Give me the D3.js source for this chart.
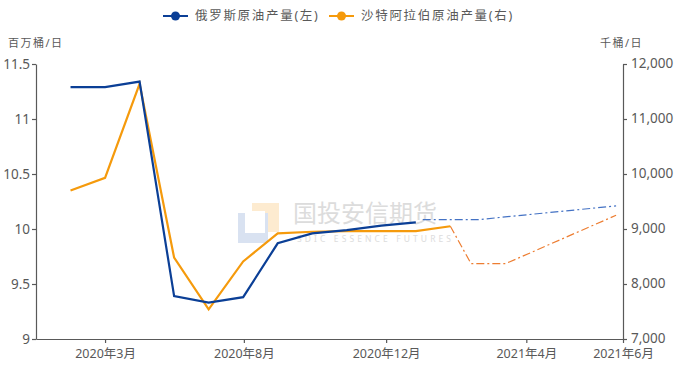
<!DOCTYPE html>
<html>
<head>
<meta charset="utf-8">
<script src="https://cdn.jsdelivr.net/npm/d3@7"></script>
<style>
  body { margin: 0; background: #fff; }
  svg text { font-family: "Noto Sans", "Noto Sans CJK SC", sans-serif; }
</style>
</head>
<body>
<div id="chart"></div>
<script>
// months indexed from 2020-02 (0) to 2021-06 (16)
var russiaMonths = [0, 1, 2, 3, 4, 5, 6, 7, 8, 9, 10];
var russiaValues = [11.29, 11.29, 11.34, 9.39, 9.33, 9.38, 9.87, 9.96, 9.99, 10.03, 10.06];
var russiaForecastMonths = [10.2, 11.8, 15.8];
var russiaForecastValues = [10.085, 10.085, 10.21];

var saudiMonths = [0, 1, 2, 3, 4, 5, 6, 7, 8, 9, 10, 11];
var saudiValues = [9700, 9930, 11640, 8480, 7540, 8410, 8920, 8950, 8960, 8960, 8960, 9050];
var saudiForecastMonths = [11, 11.6, 12.6, 15.8];
var saudiForecastValues = [9050, 8370, 8370, 9250];

var tickMonths = [1, 5.02, 9.14, 13.2, 16];
var tickLabels = ["2020年3月", "2020年8月", "2020年12月", "2021年4月", "2021年6月"];

var leftTicks = [9, 9.5, 10, 10.5, 11, 11.5];
var rightTicks = [7000, 8000, 9000, 10000, 11000, 12000];

var svgWidth = 680, svgHeight = 370;
var margin = {top: 64, right: 57, bottom: 31, left: 36};
var width = svgWidth - margin.left - margin.right;
var height = svgHeight - margin.top - margin.bottom;

var blue = "#0b3f96", orange = "#f59a0c";
var blueDash = "#4472c4", orangeDash = "#ed7d31";
var axisColor = "#595959", textColor = "#595959";

var svg = d3.select("#chart").append("svg")
    .attr("width", svgWidth)
    .attr("height", svgHeight);

var g = svg.append("g").attr("transform", "translate(" + margin.left + "," + margin.top + ")");

var x = d3.scaleLinear().domain([-1, 16]).range([0, width]);
var yL = d3.scaleLinear().domain([9, 11.5]).range([height, 0]);
var yR = d3.scaleLinear().domain([7000, 12000]).range([height, 0]);

// watermark
var wm = g.append("g").attr("opacity", 0.9);
wm.append("rect").attr("x", 216).attr("y", 139).attr("width", 27).attr("height", 29).attr("fill", "#fde9cc");
wm.append("rect").attr("x", 202).attr("y", 149).attr("width", 30).attr("height", 30).attr("fill", "#d5dff0");
wm.append("rect").attr("x", 209).attr("y", 147).attr("width", 20).attr("height", 22).attr("fill", "#fff");
wm.append("text").attr("x", 257).attr("y", 158).attr("font-size", 24)
    .attr("font-family", "'Noto Sans CJK SC', sans-serif")
    .attr("fill", "#d9d9d9").text("国投安信期货");
wm.append("text").attr("x", 261).attr("y", 178).attr("font-size", 8.5)
    .attr("letter-spacing", 3.1).attr("fill", "#d9d9d9").text("SDIC ESSENCE FUTURES");

// axes
var xAxis = d3.axisBottom(x).tickValues(tickMonths)
    .tickFormat(function(d, i) { return tickLabels[i]; })
    .tickSize(4).tickSizeOuter(0);
var gx = g.append("g").attr("transform", "translate(0," + height + ")").call(xAxis);

var leftAxis = d3.axisLeft(yL).tickValues(leftTicks).tickFormat(d3.format("")).tickSize(4).tickSizeOuter(0);
var gl = g.append("g").call(leftAxis);

var rightAxis = d3.axisRight(yR).tickValues(rightTicks).tickFormat(d3.format(",")).tickSize(4).tickSizeOuter(0);
var gr = g.append("g").attr("transform", "translate(" + width + ",0)").call(rightAxis);

[gx, gl, gr].forEach(function(a) {
  a.selectAll("path, line").attr("stroke", axisColor).attr("stroke-width", 1.2);
  a.selectAll("text").attr("fill", textColor).attr("font-size", 13.5)
      .attr("font-family", "'Noto Sans', 'Noto Sans CJK SC', sans-serif");
});
gx.selectAll("text").attr("y", 7).attr("dy", "0.95em").attr("font-size", 12.5);
gl.selectAll("text").attr("x", -6);
gr.selectAll("text").attr("x", 8).attr("dy", "0.25em");

// unit labels
svg.append("text").attr("x", 8).attr("y", 47).attr("font-size", 11)
    .attr("font-family", "'Noto Sans CJK SC', sans-serif").attr("letter-spacing", 1.5)
    .attr("fill", textColor).text("百万桶/日");
svg.append("text").attr("x", 600).attr("y", 47).attr("font-size", 11)
    .attr("font-family", "'Noto Sans CJK SC', sans-serif").attr("letter-spacing", 1.5)
    .attr("fill", textColor).text("千桶/日");

// lines
var lineL = d3.line().x(function(d) { return x(d[0]); }).y(function(d) { return yL(d[1]); });
var lineR = d3.line().x(function(d) { return x(d[0]); }).y(function(d) { return yR(d[1]); });

g.append("path").datum(d3.zip(russiaForecastMonths, russiaForecastValues))
    .attr("d", lineL).attr("fill", "none").attr("stroke", blueDash)
    .attr("stroke-width", 1.2).attr("stroke-dasharray", "8,3,2,3");
g.append("path").datum(d3.zip(saudiForecastMonths, saudiForecastValues))
    .attr("d", lineR).attr("fill", "none").attr("stroke", orangeDash)
    .attr("stroke-width", 1.2).attr("stroke-dasharray", "8,3,2,3");

g.append("path").datum(d3.zip(saudiMonths, saudiValues))
    .attr("d", lineR).attr("fill", "none").attr("stroke", orange)
    .attr("stroke-width", 2.2).attr("stroke-linejoin", "miter");
g.append("path").datum(d3.zip(russiaMonths, russiaValues))
    .attr("d", lineL).attr("fill", "none").attr("stroke", blue)
    .attr("stroke-width", 2.2).attr("stroke-linejoin", "miter");

// legend
var legendItems = [
  {label: "俄罗斯原油产量(左)", color: blue, x: 163},
  {label: "沙特阿拉伯原油产量(右)", color: orange, x: 329}
];
var legend = svg.append("g").selectAll("g").data(legendItems).enter().append("g")
    .attr("transform", function(d) { return "translate(" + d.x + ",16)"; });
legend.append("line").attr("x1", 0).attr("x2", 25).attr("stroke", function(d) { return d.color; }).attr("stroke-width", 2);
legend.append("circle").attr("cx", 12.5).attr("r", 4.5).attr("fill", function(d) { return d.color; });
legend.append("text").attr("x", 32).attr("y", 0).attr("dy", "0.35em")
    .attr("font-size", 12.5).attr("letter-spacing", 1.7)
    .attr("font-family", "'Noto Sans CJK SC', sans-serif")
    .attr("fill", textColor).text(function(d) { return d.label; });
</script>
</body>
</html>
